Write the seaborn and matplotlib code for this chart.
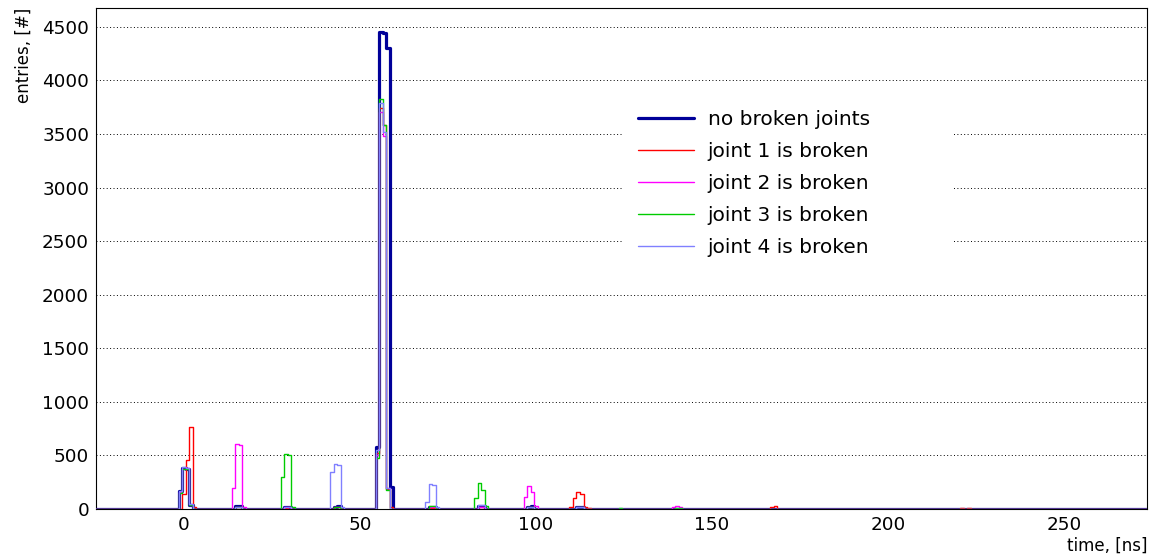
import numpy as np
import pandas as pd
import matplotlib
matplotlib.use("Agg")
import matplotlib.pyplot as plt
from matplotlib.lines import Line2D
from matplotlib.patches import Rectangle
from matplotlib.ticker import MultipleLocator
import seaborn as sns

# Histogram binning: 1 ns bins centred on whole ns
bin_centers = np.arange(-25, 275)

# Non-empty bins per series (bin centre [ns], entries)
nobroken_t = [-1, 0, 1, 2, 15, 16, 29, 30, 43, 44, 55, 56, 57, 58, 59,
              70, 71, 84, 85, 98, 99, 112, 113]
nobroken_n = [170, 380, 375, 40, 25, 28, 18, 20, 22, 25, 580, 4450, 4440, 4300, 210,
              15, 18, 25, 28, 22, 25, 15, 15]

joint1_t = [0, 1, 2, 3, 15, 16, 29, 30, 43, 44, 55, 56, 57, 58, 59, 70, 71,
            84, 85, 98, 99, 110, 111, 112, 113, 114, 115, 167, 168, 221, 223]
joint1_n = [140, 460, 770, 20, 15, 18, 12, 15, 15, 18, 520, 3740, 3580, 190, 20, 12, 14,
            18, 20, 15, 18, 15, 105, 160, 140, 20, 10, 15, 30, 10, 10]

joint2_t = [-1, 0, 1, 2, 14, 15, 16, 17, 29, 30, 43, 44, 55, 56, 57, 58, 70, 71,
            84, 85, 97, 98, 99, 100, 112, 113, 139, 140, 141]
joint2_n = [160, 370, 380, 40, 200, 604, 595, 20, 15, 15, 15, 15, 500, 3700, 3480, 200, 15, 15,
            20, 20, 110, 215, 160, 30, 15, 15, 15, 25, 15]

joint3_t = [-1, 0, 1, 2, 15, 16, 28, 29, 30, 31, 43, 44, 55, 56, 57, 58, 70, 71,
            83, 84, 85, 86, 98, 99, 112, 113, 124, 140, 141]
joint3_n = [150, 370, 375, 40, 18, 18, 296, 510, 505, 20, 15, 15, 480, 3830, 3580, 180, 25, 25,
            100, 240, 180, 30, 18, 18, 20, 20, 8, 12, 12]

joint4_t = [-1, 0, 1, 2, 15, 16, 29, 30, 42, 43, 44, 45, 55, 56, 57, 58,
            69, 70, 71, 72, 84, 85, 98, 99, 112, 113]
joint4_n = [165, 390, 385, 45, 20, 20, 18, 18, 342, 417, 410, 20, 550, 3790, 3520, 200,
            68, 230, 222, 15, 40, 40, 20, 20, 15, 15]

labels = ["no broken joints", "joint 1 is broken", "joint 2 is broken",
          "joint 3 is broken", "joint 4 is broken"]
colors = ["#000099", "#ff0000", "#ff00ff", "#00cc00", "#8080ff"]
widths = [2.3, 1.0, 1.0, 1.0, 1.0]


def fill_bins(t, n):
    # put the sparse bins into the full histogram
    counts = np.zeros(len(bin_centers))
    counts[np.array(t) - bin_centers[0]] = n
    return pd.DataFrame({'time': bin_centers.astype(float), 'entries': counts})


series = [(nobroken_t, nobroken_n), (joint1_t, joint1_n), (joint2_t, joint2_n),
          (joint3_t, joint3_n), (joint4_t, joint4_n)]

sns.set_style("white")
plt.rcParams['font.family'] = ['DejaVu Sans']
plt.rcParams['text.color'] = 'black'
plt.rcParams['axes.labelcolor'] = 'black'
plt.rcParams['xtick.color'] = 'black'
plt.rcParams['ytick.color'] = 'black'

fig = plt.figure(figsize=(11.53, 5.59), dpi=100)
ax = fig.add_axes([0.0833, 0.0894, 0.9115, 0.8963])

for i, (t, n) in enumerate(series):
    sns.histplot(data=fill_bins(t, n), x='time', weights='entries',
                 binwidth=1, binrange=(-25.5, 274.5),
                 element="step", fill=False, color=colors[i],
                 linewidth=widths[i], ax=ax, zorder=3 + i)

ax.set_xlim(-25, 273.6)
ax.set_ylim(0, 4675)

# ROOT-like axes
ax.xaxis.set_major_locator(MultipleLocator(50))
ax.xaxis.set_minor_locator(MultipleLocator(10))
ax.yaxis.set_major_locator(MultipleLocator(500))
ax.yaxis.set_minor_locator(MultipleLocator(100))
ax.tick_params(which='both', direction='in', top=False, right=False,
               labelsize=13.2, color='black', labelcolor='black')
ax.tick_params(which='major', length=11, width=0.8, pad=5)
ax.tick_params(which='minor', length=5.5, width=0.8)
for s in ax.spines.values():
    s.set_color('black')
    s.set_linewidth(0.8)

ax.yaxis.grid(True, which='major', linestyle=(0, (1, 2.5)), color='black', linewidth=0.7)
ax.xaxis.grid(False)
ax.set_axisbelow(True)

ax.set_xlabel("time, [ns]", loc='right', fontsize=12, labelpad=2, color='black')
ax.set_ylabel("entries, [#]", loc='top', fontsize=12, labelpad=7, color='black')

# white legend box without border (hides the grid behind it)
ax.add_patch(Rectangle((0.5005, 0.493), 0.314, 0.323, transform=ax.transAxes,
                       facecolor='white', edgecolor='none', zorder=2))

handles = [Line2D([0], [0], color=c, lw=w) for c, w in zip(colors, widths)]
leg = ax.legend(handles, labels, loc='upper left', bbox_to_anchor=(0.516, 0.796),
                frameon=False, fontsize=14.5, handlelength=2.75, handletextpad=0.7,
                labelspacing=0.64, borderaxespad=0, borderpad=0)
for txt in leg.get_texts():
    txt.set_color('black')

plt.savefig("out.png", dpi=100)
